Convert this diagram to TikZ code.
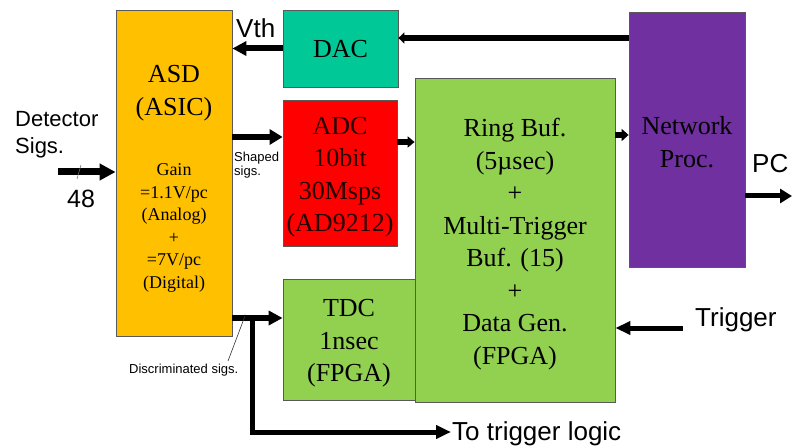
\documentclass[tikz,border=0pt]{standalone}
\usepackage{fontspec}
\setmainfont{Liberation Serif}
\newfontfamily\lab{Liberation Sans}
\usetikzlibrary{arrows.meta}
\definecolor{asdc}{HTML}{FFC000}
\definecolor{dacc}{HTML}{00C896}
\definecolor{adcc}{HTML}{FF0000}
\definecolor{grnc}{HTML}{92D050}
\definecolor{purc}{HTML}{7030A0}
\tikzset{
  blk/.style={draw=black!65, line width=0.8pt, rectangle, inner sep=0pt},
  big/.style={font=\fontsize{26}{32.5}\selectfont, align=center, inner sep=0pt},
  small/.style={font=\fontsize{18}{22.6}\selectfont, align=center, inner sep=0pt},
  lbl/.style={font=\lab\fontsize{26}{31}\selectfont, inner sep=0pt},
  tiny/.style={font=\lab\fontsize{13}{14}\selectfont, inner sep=0pt, align=left},
  arrbig/.style={line width=7pt, -{Triangle[length=16pt,width=16pt]}},
  arr/.style={line width=6pt, -{Triangle[length=14pt,width=14pt]}},
  arrs/.style={line width=6pt, -{Triangle[length=7pt,width=11pt]}},
}
\begin{document}
\begin{tikzpicture}[x=1pt,y=-1pt]
\useasboundingbox (0,0) rectangle (792,446);
% blocks
\node[blk, fill=asdc, minimum width=116pt, minimum height=326pt] (asd) at (174,173) {};
\node[big] (asdtxt) at (174,93) {ASD\\(ASIC)};
\node[small] (gain) at (174,228) {Gain\\=1.1V/pc\\(Analog)\\+\\=7V/pc\\(Digital)};
\node[blk, fill=dacc, minimum width=115pt, minimum height=77pt] (dac) at (340.5,48.5) {};
\node[big] (dactxt) at (340.5,49.5) {DAC};
\node[blk, fill=adcc, minimum width=114pt, minimum height=146pt] (adc) at (340,173) {};
\node[big, text=black!85!red] (adctxt) at (340,177) {ADC\\10bit\\30Msps\\(AD9212)};
\node[blk, fill=grnc, minimum width=132pt, minimum height=121pt] (tdc) at (349,339.5) {};
\node[big] (tdctxt) at (349,343.5) {TDC\\1nsec\\(FPGA)};
\node[blk, fill=grnc, minimum width=200pt, minimum height=324pt] (ring) at (515,240) {};
\node[big] (ringtxt) at (515,244) {Ring Buf.\\(5µsec)\\+\\Multi-Trigger\\Buf. (15)\\+\\Data Gen.\\(FPGA)};
\node[blk, fill=purc, minimum width=116pt, minimum height=255pt] (net) at (687,139.5) {};
\node[big] (nettxt) at (687,142) {Network\\Proc.};
% labels
\node[lbl, font=\lab\fontsize{22}{27}\selectfont, align=left, anchor=west] (det) at (15,135) {Detector\\Sigs.};
\node[lbl, font=\lab\fontsize{25}{30}\selectfont, anchor=base west] (n48) at (67,208) {48};
\node[lbl, anchor=base west] (vth) at (236,38) {Vth};
\node[lbl, anchor=base west] (pc) at (752,173) {PC};
\node[lbl, anchor=base west] (trig) at (695,326) {Trigger};
\node[lbl, anchor=base west] (tolog) at (452,440) {To trigger logic};
\node[tiny, anchor=base west] (shaped) at (234,176) {Shaped\\sigs.};
\node[tiny, anchor=base west] (disc) at (129,373) {Discriminated sigs.};
% connectors
\coordinate (detin) at (58,172);
\draw[arrbig] (detin) -- (asd.west |- detin);
\coordinate (sl1) at (77,179);
\coordinate (sl2) at (81,165);
\draw[black!55, line width=0.6pt] (sl1) -- (sl2);
\draw[arr] (dac.west) -- (asd.east |- dac.west);
\coordinate (netout) at (629,38);
\draw[arrs, -{Triangle[length=6pt,width=11pt]}] (net.west |- netout) -- (dac.east |- netout);
\coordinate (shy) at (0,137);
\draw[arr, line width=5.5pt, -{Triangle[length=13pt,width=15pt]}] (asd.east |- shy) -- (adc.west |- shy);
\coordinate (ady) at (0,142);
\draw[arrs] (adc.east |- ady) -- (ring.west |- ady);
\coordinate (rny) at (0,135);
\draw[arrs, -{Triangle[length=7pt,width=12pt]}] (ring.east |- rny) -- (net.west |- rny);
\coordinate (pcend) at (792,196);
\draw[arr, line width=5pt, -{Triangle[length=12pt,width=14pt]}] (net.east |- pcend) -- (pcend);
\coordinate (trigsrc) at (683,328);
\draw[arr, line width=5pt, -{Triangle[length=15pt,width=13pt]}] (trigsrc) -- (ring.east |- trigsrc);
\coordinate (dsy) at (0,318);
\draw[arr, line width=6.5pt] (asd.east |- dsy) -- (tdc.west |- dsy);
\coordinate (split) at (252,318);
\coordinate (corner) at (252,432);
\coordinate (tlend) at (451,432);
\draw[line width=5pt, -{Triangle[length=15pt,width=13pt]}] ([yshift=3pt]split) -- (corner) -- (tlend);
\coordinate (jdot) at (245,316);
\coordinate (leadend) at (228,361);
\fill (jdot) circle (1.4pt);
\draw[black!80, line width=0.6pt] (jdot) -- (leadend);
\end{tikzpicture}
\end{document}
